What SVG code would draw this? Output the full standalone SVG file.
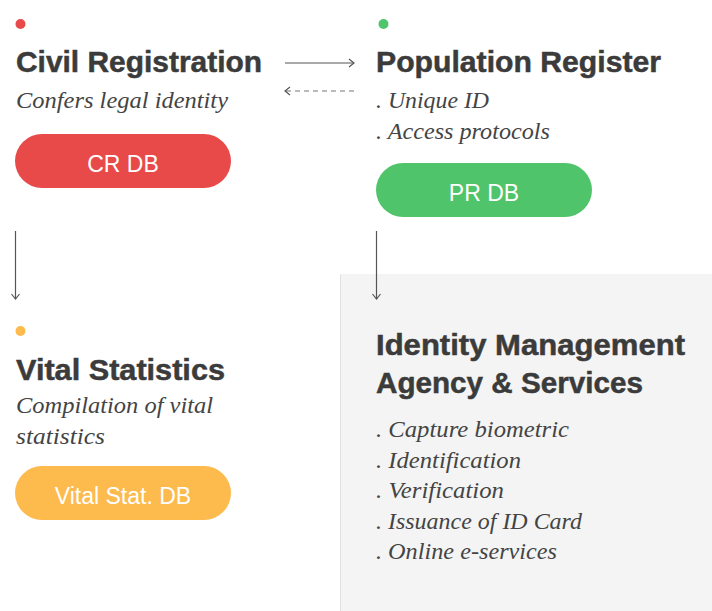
<svg xmlns="http://www.w3.org/2000/svg" width="712" height="611" viewBox="0 0 712 611">
  <defs>
    <style>
      .title { font-family: "Liberation Sans", Arial, sans-serif; font-weight: bold; font-size: 29.5px; fill: #3b3b3b; stroke: #3b3b3b; stroke-width: 0.5px; }
      .desc { font-family: "Liberation Serif", "Times New Roman", serif; font-style: italic; font-size: 23px; fill: #444444; }
      .pilltxt { font-family: "Liberation Sans", Arial, sans-serif; font-size: 23px; fill: #ffffff; text-anchor: middle; }
      .conn { fill: none; stroke: #555555; stroke-width: 1.2; }
      .dash { stroke-dasharray: 5 4; stroke: #777777; }
    </style>
    <marker id="chev" viewBox="0 0 10 10" refX="9" refY="5" markerWidth="10" markerHeight="10" markerUnits="userSpaceOnUse" orient="auto-start-reverse">
      <path d="M4,1 L9,5 L4,9" fill="none" stroke="#555555" stroke-width="1.2"/>
    </marker>
  </defs>

  <rect width="712" height="611" fill="#ffffff"/>

  <!-- Identity management panel background -->
  <g id="ima">
    <rect x="340" y="274" width="372" height="337" fill="#f4f4f4"/>
    <line x1="340.5" y1="274" x2="340.5" y2="611" stroke="#e2e2e2" stroke-width="1"/>
    <text class="title" x="376" y="355" textLength="309" lengthAdjust="spacingAndGlyphs">Identity Management</text>
    <text class="title" x="376" y="393" textLength="267" lengthAdjust="spacingAndGlyphs">Agency &amp; Services</text>
    <text class="desc" x="376" y="437" textLength="193" lengthAdjust="spacingAndGlyphs">. Capture biometric</text>
    <text class="desc" x="376" y="468" textLength="145" lengthAdjust="spacingAndGlyphs">. Identification</text>
    <text class="desc" x="376" y="498" textLength="128" lengthAdjust="spacingAndGlyphs">. Verification</text>
    <text class="desc" x="376" y="529" textLength="206" lengthAdjust="spacingAndGlyphs">. Issuance of ID Card</text>
    <text class="desc" x="376" y="559" textLength="181" lengthAdjust="spacingAndGlyphs">. Online e-services</text>
  </g>

  <!-- Civil Registration -->
  <g id="cr">
    <circle cx="20.5" cy="24" r="5" fill="#e84a4a"/>
    <text class="title" x="16" y="72" textLength="246" lengthAdjust="spacingAndGlyphs">Civil Registration</text>
    <text class="desc" x="16" y="108" textLength="212" lengthAdjust="spacingAndGlyphs">Confers legal identity</text>
    <rect x="15" y="134" width="216" height="54" rx="27" fill="#e84a4a"/>
    <text class="pilltxt" x="123" y="172">CR DB</text>
  </g>

  <!-- Population Register -->
  <g id="pr">
    <circle cx="383.5" cy="24" r="5" fill="#4fc46a"/>
    <text class="title" x="376" y="72" textLength="285" lengthAdjust="spacingAndGlyphs">Population Register</text>
    <text class="desc" x="376" y="108" textLength="113" lengthAdjust="spacingAndGlyphs">. Unique ID</text>
    <text class="desc" x="376" y="139" textLength="174" lengthAdjust="spacingAndGlyphs">. Access protocols</text>
    <rect x="376" y="163" width="216" height="54" rx="27" fill="#4fc46a"/>
    <text class="pilltxt" x="484" y="201">PR DB</text>
  </g>

  <!-- Vital Statistics -->
  <g id="vs">
    <circle cx="20.5" cy="331" r="5" fill="#fdba4d"/>
    <text class="title" x="16" y="380" textLength="209" lengthAdjust="spacingAndGlyphs">Vital Statistics</text>
    <text class="desc" x="16" y="413" textLength="197" lengthAdjust="spacingAndGlyphs">Compilation of vital</text>
    <text class="desc" x="16" y="444" textLength="89" lengthAdjust="spacingAndGlyphs">statistics</text>
    <rect x="15" y="466" width="216" height="54" rx="27" fill="#fdba4d"/>
    <text class="pilltxt" x="123" y="504">Vital Stat. DB</text>
  </g>

  <!-- Connectors -->
  <g id="connectors">
    <line class="conn" x1="285" y1="63" x2="354" y2="63" marker-end="url(#chev)"/>
    <line class="conn dash" x1="354" y1="91" x2="285" y2="91" marker-end="url(#chev)"/>
    <line class="conn" x1="15.5" y1="231" x2="15.5" y2="299" marker-end="url(#chev)"/>
    <line class="conn" x1="376.5" y1="231" x2="376.5" y2="299" marker-end="url(#chev)"/>
  </g>
</svg>
